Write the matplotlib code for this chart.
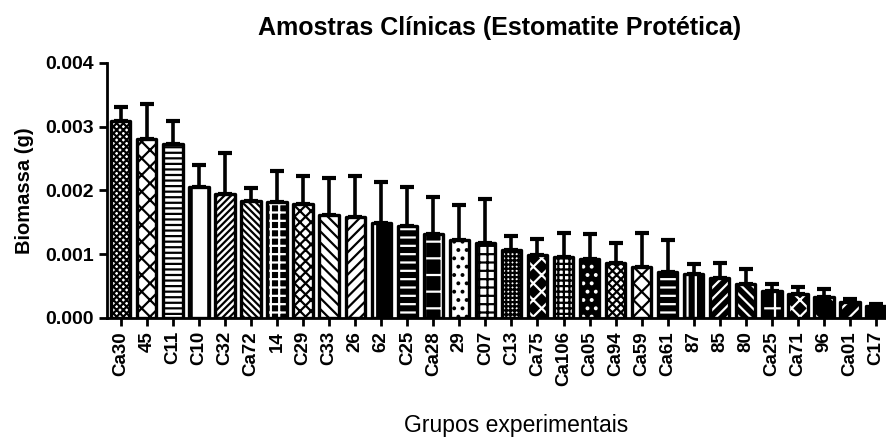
import numpy as np
import matplotlib.pyplot as plt

plt.rcParams['font.family'] = ['Liberation Sans', 'DejaVu Sans']
plt.rcParams['hatch.linewidth'] = 1.6

# data
grupos = ['Ca30', '45', 'C11', 'C10', 'C32', 'Ca72', '14', 'C29', 'C33', '26',
          '62', 'C25', 'Ca28', '29', 'C07', 'C13', 'Ca75', 'Ca106', 'Ca05', 'Ca94',
          'Ca59', 'Ca61', '87', '85', '80', 'Ca25', 'Ca71', '96', 'Ca01', 'C17']
media = [0.00308, 0.00280, 0.00273, 0.00206, 0.00194, 0.00184, 0.00181, 0.00178,
         0.00162, 0.00158, 0.00149, 0.00144, 0.00131, 0.00122, 0.00118, 0.00107,
         0.00099, 0.00096, 0.00092, 0.00086, 0.00080, 0.00072, 0.00069, 0.00063,
         0.00054, 0.00043, 0.00037, 0.00033, 0.00025, 0.00019]
topo_erro = [0.00331, 0.00336, 0.00309, 0.00239, 0.00258, 0.00203, 0.00230, 0.00222,
             0.00220, 0.00223, 0.00213, 0.00205, 0.00190, 0.00177, 0.00187, 0.00128,
             0.00123, 0.00133, 0.00131, 0.00117, 0.00133, 0.00122, 0.00084, 0.00086,
             0.00077, 0.00053, 0.00049, 0.00045, 0.00030, 0.00022]
desvio = np.array(topo_erro) - np.array(media)

# (fundo, hachura, cor da hachura)
padroes = [('white', 'xxxxx', 'black'), ('white', 'xx', 'black'), ('white', '---', 'black'),
           ('white', '|', 'black'), ('white', '/////', 'black'), ('white', '\\\\\\\\\\', 'black'),
           ('black', '++', 'white'), ('white', 'xxx', 'black'), ('white', '\\\\\\', 'black'),
           ('white', '///', 'black'), ('black', '|', 'white'), ('black', '--', 'white'),
           ('black', '+', 'white'), ('white', '..', 'black'), ('white', '++', 'black'),
           ('white', '++++', 'black'), ('black', 'xx', 'white'), ('white', '+++', 'black'),
           ('black', '..', 'white'), ('white', 'xxxx', 'black'), ('white', 'xx', 'black'),
           ('black', '--', 'white'), ('black', '||', 'white'), ('black', '///', 'white'),
           ('black', '\\\\\\', 'white'), ('black', '+', 'white'), ('black', 'xx', 'white'),
           ('black', '\\', 'white'), ('black', '//', 'white'), ('black', '', 'white')]

fig = plt.figure(figsize=(8.87, 4.43), dpi=100)
ax = fig.add_axes([0.1206, 0.2822, 0.8794, 0.5763])

x = np.arange(len(grupos))
w = 0.74
for i in range(len(grupos)):
    fundo, hach, cor = padroes[i]
    ax.bar(x[i], media[i], w, color=fundo, edgecolor=cor, hatch=hach, linewidth=0, zorder=2)
ax.bar(x, media, w, fill=False, edgecolor='black', linewidth=2.4, joinstyle='round', zorder=3)
ax.errorbar(x, media, yerr=[np.zeros(len(x)), desvio], fmt='none', ecolor='black',
            elinewidth=2.6, capsize=5, capthick=3, zorder=1)

ax.set_xlim(-0.53, 29.42)
ax.set_ylim(0, 0.004)
ax.set_yticks([0, 0.001, 0.002, 0.003, 0.004])
ax.set_yticklabels(['0.000', '0.001', '0.002', '0.003', '0.004'], fontsize=14, fontweight='bold')
ax.set_xticks(x)
ax.set_xticklabels(grupos, rotation=90, fontsize=13.5, fontweight='bold')
ax.tick_params(axis='both', direction='out', length=6, width=2)
for s in ['top', 'right']:
    ax.spines[s].set_visible(False)
for s in ['left', 'bottom']:
    ax.spines[s].set_linewidth(2)

ax.set_ylabel('Biomassa (g)', fontsize=14.5, fontweight='bold', labelpad=8)
fig.text(0.582, 0.025, 'Grupos experimentais', ha='center', fontsize=16.5)
fig.text(0.5637, 0.922, 'Amostras Clínicas (Estomatite Protética)', ha='center',
         fontsize=18, fontweight='bold')

fig.savefig('out.png', dpi=100)
